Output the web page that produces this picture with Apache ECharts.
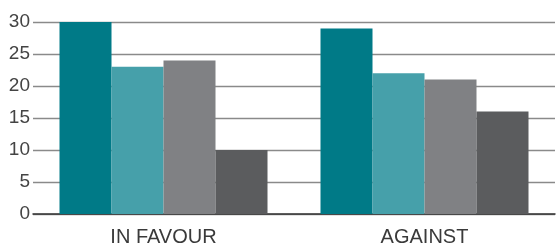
<!DOCTYPE html>
<html>
<head>
<meta charset="utf-8">
<script src="https://cdn.jsdelivr.net/npm/echarts@6/dist/echarts.min.js"></script>
<style>
  html, body { margin: 0; padding: 0; background: #fff; }
  #chart { width: 559px; height: 248px; }
</style>
</head>
<body>
<div id="chart"></div>
<script>
const categories = ["IN FAVOUR", "AGAINST"];
const seriesA = [30, 29];
const seriesB = [23, 22];
const seriesC = [24, 21];
const seriesD = [10, 16];
const colors = ["#007a87", "#46a0aa", "#808184", "#5b5c5e"];

const chart = echarts.init(document.getElementById("chart"));
const font = "'Liberation Sans', Arial, sans-serif";

chart.setOption({
  animation: false,
  grid: { left: 33, right: 4, top: 22, bottom: 34 },
  xAxis: {
    type: "category",
    data: categories,
    axisLine: { lineStyle: { color: "#333", width: 1.5 } },
    axisTick: { show: false },
    axisLabel: { color: "#3a3a3a", fontSize: 20, fontFamily: font, margin: 13 },
  },
  yAxis: {
    type: "value",
    min: 0,
    max: 30,
    interval: 5,
    axisLine: { show: false },
    axisTick: { show: false },
    splitLine: { lineStyle: { color: "#8a8a8a", width: 1.3 } },
    axisLabel: { color: "#444", fontSize: 19, fontFamily: font, margin: 3 },
  },
  series: [seriesA, seriesB, seriesC, seriesD].map((d, i) => ({
    type: "bar",
    data: d,
    barWidth: 52,
    barGap: "0%",
    itemStyle: { color: colors[i] },
  })),
});
</script>
</body>
</html>
